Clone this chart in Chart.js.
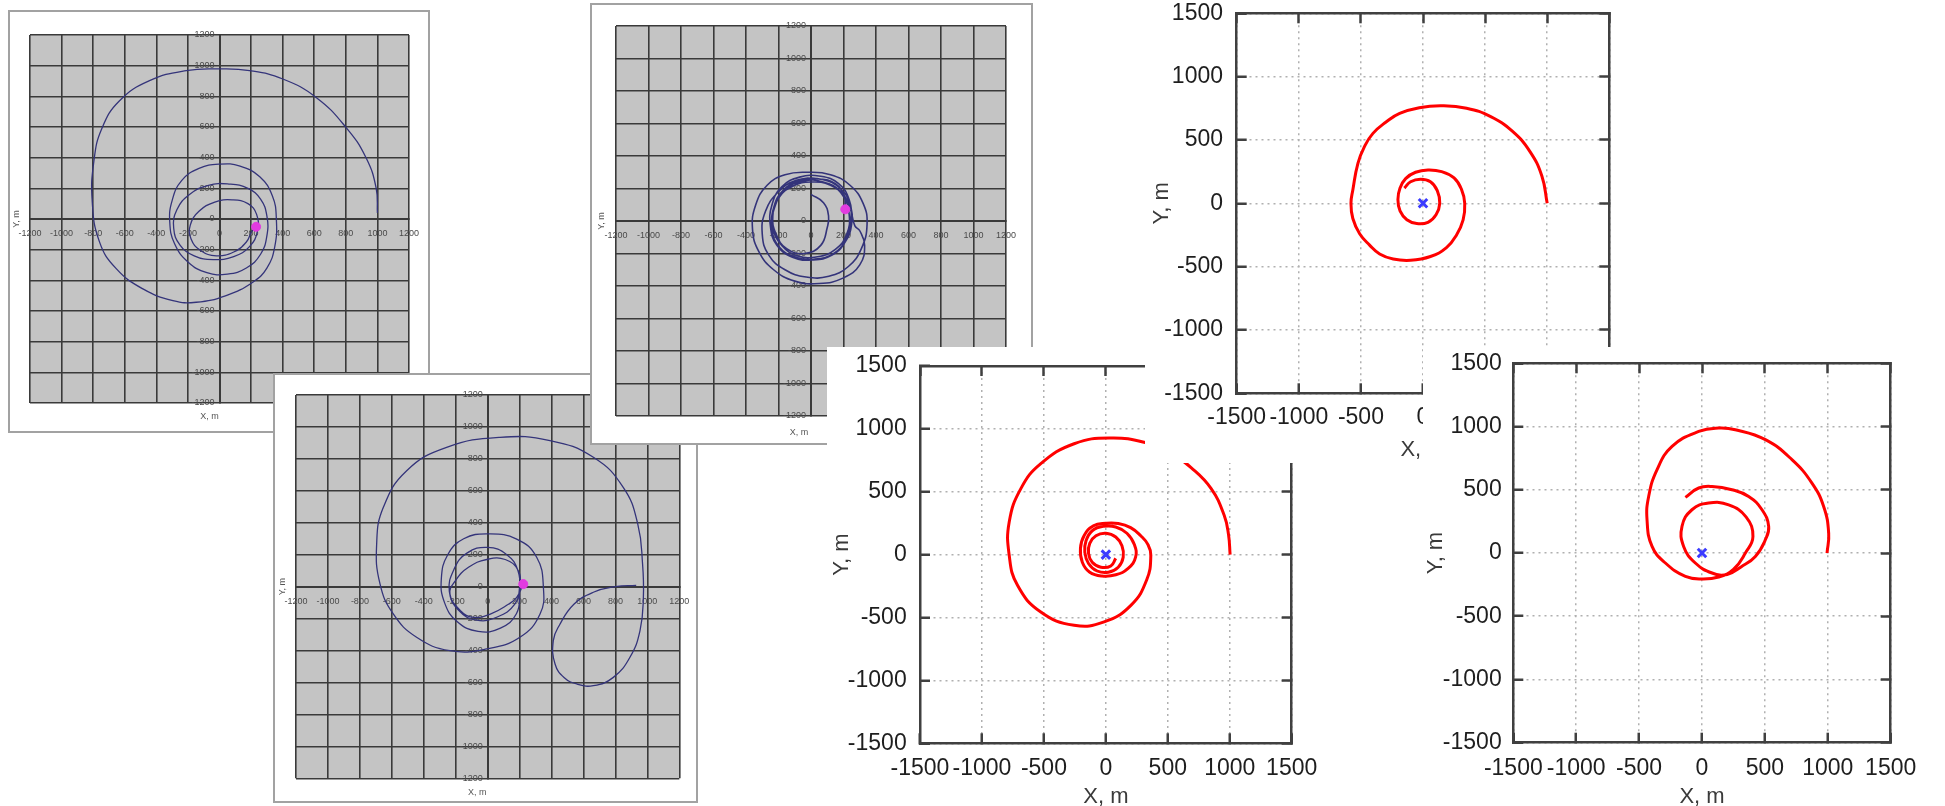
<!DOCTYPE html>
<html>
<head>
<meta charset="utf-8">
<script src="https://cdn.jsdelivr.net/npm/chart.js@4.4.1/dist/chart.umd.min.js"></script>
<style>
  html, body { margin: 0; padding: 0; background: #fff; overflow: hidden; }
  body { width: 1945px; height: 806px; position: relative; }
  .panel { position: absolute; background: #fff; }
  .panel canvas { display: block; }
  .frame { border: 2px solid #a2a2a2; box-sizing: border-box; }
</style>
</head>
<body>
<div class="panel frame" style="left:8px;top:10px;width:422px;height:423px"><canvas id="chartA" width="418" height="419"></canvas></div>
<div class="panel frame" style="left:273px;top:373px;width:425px;height:430px"><canvas id="chartB" width="421" height="426"></canvas></div>
<div class="panel frame" style="left:590px;top:3px;width:443px;height:442px"><canvas id="chartC" width="439" height="438"></canvas></div>
<div class="panel" style="left:827px;top:347px"><canvas id="chartE" width="513" height="470"></canvas></div>
<div class="panel" style="left:1145px;top:0px"><canvas id="chartD" width="515" height="463"></canvas></div>
<div class="panel" style="left:1423px;top:347px"><canvas id="chartF" width="522" height="470"></canvas></div>
<script>
// tick values
var grayTicks = [-1200, -1000, -800, -600, -400, -200, 0, 200, 400, 600, 800, 1000, 1200];
var matlabTicks = [-1500, -1000, -500, 0, 500, 1000, 1500];

// trajectories, [X, Y] in metres
var pathA = [[1000,40],[992,201],[928,399],[802,596],[612,793],[401,913],[190,968],[0,979],[-211,968],[-443,902],[-633,771],[-745,590],[-795,380],[-806,114],[-760,-149],[-654,-324],[-485,-456],[-295,-532],[-148,-543],[42,-499],[211,-412],[300,-320],[350,-180],[360,0],[335,150],[255,275],[130,345],[0,358],[-130,330],[-240,250],[-300,120],[-315,-20],[-285,-160],[-200,-280],[-80,-350],[50,-360],[170,-320],[260,-230],[300,-110],[300,20],[260,130],[180,200],[60,228],[-70,220],[-190,160],[-270,60],[-290,-60],[-250,-170],[-160,-240],[-40,-265],[90,-245],[190,-180],[240,-80],[235,30],[180,100],[80,125],[-30,110],[-130,50],[-185,-40],[-180,-130],[-120,-205],[-20,-240],[90,-215],[170,-150],[205,-80],[232,-51]];
var pathB = [[930,8],[800,0],[662,-35],[540,-110],[450,-240],[411,-338],[422,-484],[480,-570],[560,-610],[662,-620],[787,-568],[891,-442],[954,-275],[975,-67],[970,142],[940,392],[850,620],[662,810],[390,915],[77,935],[-257,872],[-507,726],[-653,497],[-695,267],[-674,17],[-591,-171],[-445,-317],[-236,-401],[-6,-390],[202,-317],[328,-171],[349,-4],[307,184],[182,298],[0,330],[-150,300],[-250,200],[-290,50],[-270,-100],[-190,-220],[-60,-280],[80,-260],[180,-170],[200,-40],[190,100],[120,200],[0,246],[-130,210],[-210,110],[-240,-30],[-180,-150],[-70,-210],[60,-190],[170,-110],[200,0],[192,100],[110,170],[-6,170],[-120,121],[-200,40],[-236,-46],[-170,-150],[-90,-192],[20,-170],[130,-110],[182,-67],[223,16]];
var pathC = [[0,164],[77,113],[108,31],[100,-40],[60,-150],[-40,-200],[-150,-170],[-215,-80],[-235,30],[-200,140],[-110,215],[0,240],[120,220],[200,150],[235,40],[220,-80],[150,-175],[40,-220],[-80,-215],[-180,-150],[-235,-40],[-230,80],[-170,190],[-60,250],[70,255],[180,200],[240,100],[250,-20],[210,-130],[130,-210],[10,-240],[-110,-225],[-210,-150],[-250,-30],[-240,100],[-180,210],[-70,270],[60,275],[170,230],[235,130],[245,10],[215,-110],[140,-200],[20,-235],[-100,-220],[-195,-160],[-240,-50],[-225,80],[-160,190],[-50,245],[75,240],[185,180],[240,80],[270,-30],[300,-60],[330,-150],[300,-270],[200,-350],[50,-385],[-100,-370],[-230,-300],[-320,-190],[-360,-50],[-340,100],[-270,220],[-160,285],[-20,300],[120,285],[240,220],[320,110],[345,-20],[310,-170],[230,-280],[110,-340],[-30,-345],[-160,-300],[-260,-210],[-300,-80],[-280,60],[-200,180],[-90,250],[40,260],[150,230],[205,150],[211,72]];
var pathD = [[1000,0],[957,216],[860,410],[719,569],[545,684],[351,751],[150,770],[-30,755],[-188,710],[-300,640],[-403,552],[-470,450],[-524,316],[-565,105],[-580,0],[-565,-120],[-510,-240],[-430,-330],[-349,-400],[-240,-440],[-100,-450],[60,-420],[189,-350],[270,-250],[323,-130],[336,0],[310,110],[250,200],[150,250],[40,263],[-60,245],[-140,195],[-185,120],[-202,30],[-185,-60],[-130,-130],[-50,-160],[40,-150],[105,-90],[135,0],[115,100],[60,170],[-20,190],[-100,170],[-150,120]];
var pathE = [[1003,0],[990,160],[955,313],[850,525],[690,690],[520,810],[323,890],[40,928],[-256,882],[-525,723],[-686,525],[-780,260],[-780,-5],[-713,-244],[-525,-456],[-256,-562],[-14,-535],[202,-403],[330,-200],[363,-5],[340,80],[282,150],[200,215],[100,248],[0,250],[-100,230],[-175,153],[-205,50],[-190,-60],[-130,-140],[-30,-170],[80,-160],[180,-110],[240,-20],[230,80],[170,170],[80,220],[-20,225],[-110,190],[-160,110],[-170,20],[-140,-70],[-70,-130],[20,-140],[100,-100],[140,-20],[130,70],[80,140],[0,170],[-80,150],[-130,90],[-140,10],[-110,-60],[-40,-100],[40,-90],[80,-30]];
var pathF = [[994,0],[1007,158],[967,368],[874,553],[715,738],[504,896],[265,975],[133,988],[-26,961],[-238,843],[-358,658],[-424,447],[-437,263],[-397,52],[-291,-79],[-132,-185],[0,-206],[133,-190],[250,-130],[345,0],[405,130],[350,285],[212,380],[53,395],[-80,342],[-159,210],[-146,52],[-53,-79],[80,-158],[200,-170],[310,-110],[424,-27],[504,105],[530,210],[477,342],[371,447],[238,500],[80,526],[-26,514],[-132,440]];

// current position / launch point markers
var dotA = [232, -51];
var dotB = [223, 16];
var dotC = [211, 72];
var origin = [0, 0];

function toXY(pts) {
    return pts.map(function(p) { return { x: p[0], y: p[1] }; });
}

function noPadding(s) {
    s.paddingLeft = 0; s.paddingRight = 0; s.paddingTop = 0; s.paddingBottom = 0;
}

// grey plot area behind the grid
var grayFill = {
    id: 'grayFill',
    beforeDraw: function(chart) {
        var a = chart.chartArea, c = chart.ctx;
        c.save();
        c.fillStyle = '#c4c4c4';
        c.fillRect(a.left, a.top, a.right - a.left, a.bottom - a.top);
        c.restore();
    }
};

function grayPanel(id, path, dot, g) {
    var gridColor = '#3a3a3a';
    var small = { family: 'Liberation Sans', size: 9 };
    function axis(pos, cb, pad) {
        return {
            type: 'linear', min: -1200, max: 1200, position: pos,
            afterBuildTicks: function(s) { s.ticks = grayTicks.map(function(v) { return { value: v }; }); },
            afterFit: noPadding,
            grid: { color: gridColor, lineWidth: 1.6, drawTicks: false },
            border: { display: true, color: gridColor, width: 2 },
            ticks: { autoSkip: false, maxRotation: 0, minRotation: 0, padding: pad, color: '#4a4a4a', font: small, callback: cb }
        };
    }
    new Chart(document.getElementById(id), {
        type: 'scatter',
        data: {
            datasets: [
                { data: toXY([dot]), pointRadius: 4.5, backgroundColor: '#e23be0', borderColor: '#e23be0', order: 0 },
                { data: toXY(path), showLine: true, borderColor: '#34347a', borderWidth: g.lw, pointRadius: 0, tension: 0.45, order: 1 }
            ]
        },
        options: {
            responsive: false, animation: false, events: [],
            layout: { padding: g.pad },
            scales: {
                x: axis({ y: 0 }, function(v) { return String(v); }, 9.6),
                y: axis({ x: 0 }, function(v) { return v + '  '; }, 0)
            },
            plugins: {
                legend: { display: false },
                tooltip: { enabled: false },
                title: { display: true, text: 'X, m', position: 'bottom', color: '#555', font: { family: 'Liberation Sans', size: 9, weight: 'normal' }, padding: g.xt },
                subtitle: { display: true, text: 'Y, m', position: 'left', fullSize: false, color: '#555', font: { family: 'Liberation Sans', size: 9, weight: 'normal' }, padding: g.yt }
            }
        },
        plugins: [grayFill]
    });
}

function matlabPanel(id, path, g) {
    var edge = '#404040';
    var labelFont = { family: 'Liberation Sans', size: 23 };
    var titleFont = { family: 'Liberation Sans', size: 22 };
    function setTicks(s) { s.ticks = matlabTicks.map(function(v) { return { value: v }; }); }
    var inward = { tickLength: -10, tickColor: edge, tickWidth: 2.5 };
    function box(pos) {
        return {
            type: 'linear', min: -1500, max: 1500, position: pos,
            afterBuildTicks: setTicks,
            afterFit: function(s) { noPadding(s); if (pos === 'top') s.height = 0; else s.width = 0; },
            grid: Object.assign({ drawOnChartArea: false }, inward),
            border: { display: true, color: edge, width: 2.5 },
            ticks: { display: false }
        };
    }
    new Chart(document.getElementById(id), {
        type: 'scatter',
        data: {
            datasets: [
                { data: toXY([origin]), pointStyle: 'crossRot', pointRadius: 6, borderColor: '#3b3bff', borderWidth: 3, order: 0 },
                { data: toXY(path), showLine: true, borderColor: '#ff0000', borderWidth: 3, pointRadius: 0, tension: 0.45, order: 1 }
            ]
        },
        options: {
            responsive: false, animation: false, events: [],
            layout: { padding: { left: 0, top: g.top, right: g.right, bottom: 0 } },
            scales: {
                x: {
                    type: 'linear', min: -1500, max: 1500, position: 'bottom',
                    afterBuildTicks: setTicks,
                    afterFit: function(s) { noPadding(s); s.height = g.xH; },
                    grid: Object.assign({ color: '#b0b0b0', lineWidth: 1.5 }, inward),
                    border: { display: true, color: edge, width: 2.5, dash: [2, 4] },
                    ticks: { autoSkip: false, maxRotation: 0, minRotation: 0, padding: g.xPad, color: '#1e1e1e', font: labelFont, callback: function(v) { return String(v); } },
                    title: { display: true, text: 'X, m', color: '#3a3a3a', font: titleFont, padding: { top: 0, bottom: g.xtPad } }
                },
                y: {
                    type: 'linear', min: -1500, max: 1500, position: 'left',
                    afterBuildTicks: setTicks,
                    afterFit: function(s) { noPadding(s); s.width = g.yW; },
                    grid: Object.assign({ color: '#b0b0b0', lineWidth: 1.5 }, inward),
                    border: { display: true, color: edge, width: 2.5, dash: [2, 4] },
                    ticks: { autoSkip: false, padding: g.yPad, color: '#1e1e1e', font: labelFont, callback: function(v) { return String(v); } },
                    title: { display: true, text: 'Y, m', color: '#3a3a3a', font: titleFont, padding: { top: g.ytPad, bottom: 0 } }
                },
                x2: box('top'),
                y2: box('right')
            },
            plugins: { legend: { display: false }, tooltip: { enabled: false } }
        }
    });
}

grayPanel('chartA', pathA, dotA, {
    pad: { left: 0, top: 23, right: 19, bottom: 0 }, lw: 1.3,
    yt: { top: 1.6, bottom: 7.6 }, xt: { top: 8.3, bottom: 8.9 }
});
grayPanel('chartB', pathB, dotB, {
    pad: { left: 0, top: 20, right: 16.7, bottom: 0 }, lw: 1.3,
    yt: { top: 2.6, bottom: 7.6 }, xt: { top: 9.3, bottom: 2.6 }
});
grayPanel('chartC', pathC, dotC, {
    pad: { left: 0, top: 21, right: 25, bottom: 0 }, lw: 1.6,
    yt: { top: 4.6, bottom: 8.6 }, xt: { top: 11.6, bottom: 4.6 }
});
matlabPanel('chartE', pathE, { top: 19, right: 48.3, xH: 73.7, yW: 93, xPad: 21.9, yPad: 23.3, xtPad: 6.8, ytPad: 1.5 });
matlabPanel('chartD', pathD, { top: 13.3, right: 50.7, xH: 69.7, yW: 91.7, xPad: 20.9, yPad: 23.7, xtPad: 0, ytPad: 3.8 });
matlabPanel('chartF', pathF, { top: 16.3, right: 54.3, xH: 74.3, yW: 90.3, xPad: 22.5, yPad: 21.6, xtPad: 6.8, ytPad: 0 });
</script>
</body>
</html>
